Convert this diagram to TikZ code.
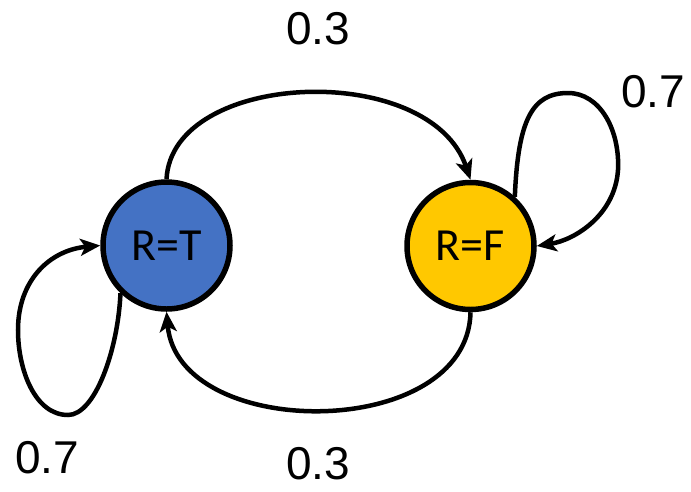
\documentclass[tikz,border=0pt]{standalone}
\usepackage{fontspec}
\setmainfont{Liberation Sans}
\newfontfamily\statefont{Carlito}
\usetikzlibrary{arrows.meta}
\definecolor{stateblue}{RGB}{68,114,196}
\definecolor{stategold}{RGB}{255,200,0}

\begin{document}
\begin{tikzpicture}[x=1pt, y=-1pt,
    state/.style={circle, draw=black, line width=5.5pt, minimum size=127pt,
      inner sep=0pt, font=\statefont\fontsize{46}{50}\selectfont},
    trans/.style={line width=4.5pt, -{Stealth[length=20pt, width=17pt, inset=5pt]}},
    prob/.style={font=\fontsize{46}{50}\selectfont}]
  \useasboundingbox (0,0) rectangle (691,491);
  % the two states
  \node[state, fill=stateblue] (T) at (166.5,245.5) {R=T};
  \node[state, fill=stategold] (F) at (470.5,246) {R=F};
  % transitions between the states
  \draw[trans] (T.north) .. controls (172,70) and (430,60) .. (F.north);
  \draw[trans] (F.south) .. controls (468,442) and (178,442) .. (T.south);
  % self loops
  \draw[trans] (F.48) .. controls (518,120) and (532,93) .. (568,93)
    .. controls (600,93) and (620,130) .. (618,170)
    .. controls (615,215) and (575,240) .. (F.east);
  \draw[trans] (T.226) .. controls (118,350) and (95,415) .. (68,415)
    .. controls (35,415) and (18,370) .. (18,330)
    .. controls (18,280) and (50,250) .. (T.west);
  % probabilities
  \node[prob] (pTF) at (318,28.5) {0.3};
  \node[prob] (pFF) at (653,92) {0.7};
  \node[prob] (pTT) at (47,458) {0.7};
  \node[prob] (pFT) at (318,464) {0.3};
\end{tikzpicture}
\end{document}
